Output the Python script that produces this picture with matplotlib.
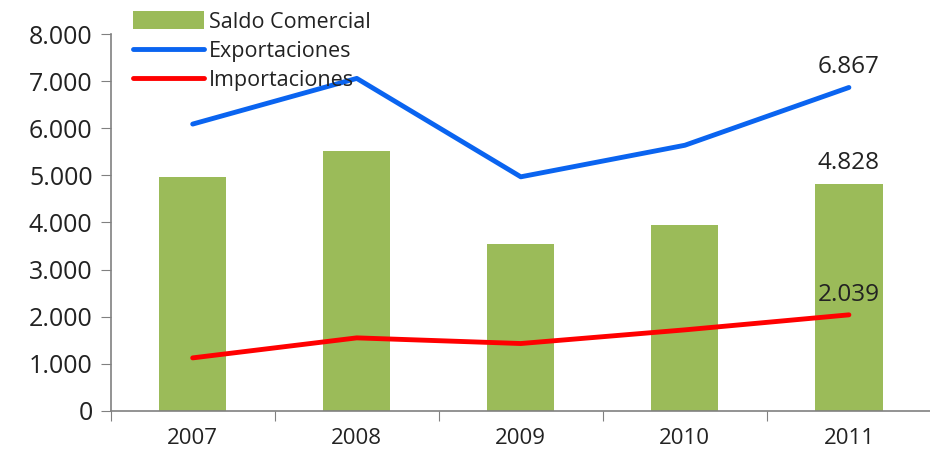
import numpy as np
import matplotlib.pyplot as plt

# values (units, thousands separator = ".")
years = ["2007", "2008", "2009", "2010", "2011"]
saldo = [4960, 5520, 3545, 3950, 4828]
exportaciones = [6090, 7060, 4970, 5640, 6867]
importaciones = [1125, 1550, 1430, 1720, 2039]

green = "#9BBB59"
blue = "#0A64F0"
red = "#FF0000"
txt = "#222222"

plt.rcParams["font.family"] = ["Open Sans", "DejaVu Sans"]

fig = plt.figure(figsize=(9.30, 4.55), dpi=100)
fig.patch.set_facecolor("white")
ax = fig.add_axes([0.119, 0.097, 0.882, 0.828])
ax.set_facecolor("none")

x = np.arange(len(years))
bars = ax.bar(x, saldo, width=0.41, color=green, label="Saldo Comercial", zorder=2)
l_exp, = ax.plot(x, exportaciones, color=blue, lw=3.5, solid_capstyle="round",
                 label="Exportaciones", zorder=3)
l_imp, = ax.plot(x, importaciones, color=red, lw=3.5, solid_capstyle="round",
                 label="Importaciones", zorder=3)

def fmt(v):
    return f"{v:,}".replace(",", ".")

# labels only on the last year
for series in (saldo, exportaciones, importaciones):
    ax.text(x[-1], series[-1] + 170, fmt(series[-1]), ha="center", va="bottom",
            fontsize=17.5, color=txt)

ax.set_xlim(-0.5, len(years) - 0.5)
ax.set_ylim(0, 8000)
ax.set_yticks(range(0, 8001, 1000))
ax.set_yticklabels([fmt(v) for v in range(0, 8001, 1000)], fontsize=18, color=txt)

# category boundary ticks, labels centred between them
ax.set_xticks(np.arange(-0.5, len(years), 1.0))
ax.set_xticklabels([])
ax.set_xticks(x, minor=True)
ax.set_xticklabels(years, minor=True, fontsize=16, color=txt)
ax.tick_params(axis="x", which="minor", length=0, pad=12)
ax.tick_params(axis="x", which="major", length=7, color="#808080")
ax.tick_params(axis="y", length=7, color="#808080", pad=6)

for side in ["top", "right"]:
    ax.spines[side].set_visible(False)
for side in ["left", "bottom"]:
    ax.spines[side].set_color("#808080")
    ax.spines[side].set_linewidth(1.2)

leg = ax.legend([bars, l_exp, l_imp],
                ["Saldo Comercial", "Exportaciones", "Importaciones"],
                loc="upper left", bbox_to_anchor=(0.017, 1.083), frameon=False,
                fontsize=15.5, handlelength=3.3, handleheight=0.85,
                handletextpad=0.2, labelspacing=0.38, borderaxespad=0)
for t in leg.get_texts():
    t.set_color(txt)

fig.savefig("out.png", dpi=100, facecolor="white")
